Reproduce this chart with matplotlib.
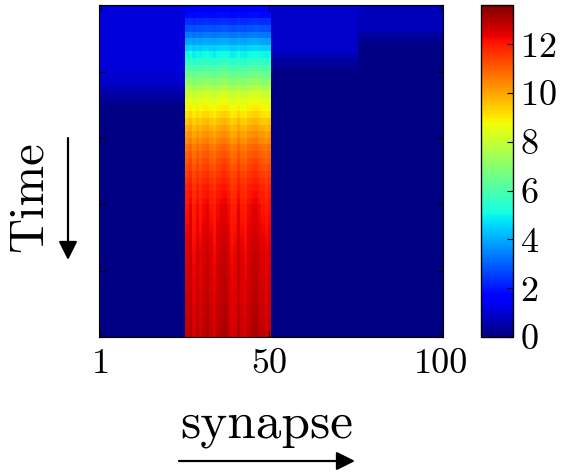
import numpy as np
import matplotlib
matplotlib.use("Agg")
import matplotlib.pyplot as plt

plt.rcParams['font.family'] = 'serif'
plt.rcParams['font.serif'] = ['cmr10']
plt.rcParams['axes.formatter.use_mathtext'] = True

# mean value of the stimulated synapses (26-50), one value per time row (top -> bottom)
band_profile = [1.4, 1.8, 2.3, 2.8, 3.3, 3.9, 4.5, 5.0, 5.5, 6.0,
                6.5, 7.0, 7.6, 8.1, 8.5, 8.8, 9.1, 9.5, 9.8, 10.1,
                10.4, 10.7, 10.9, 11.1, 11.3, 11.5, 11.65, 11.8, 11.9, 12.0,
                12.1, 12.15, 12.2, 12.25, 12.3, 12.35, 12.4, 12.45, 12.45, 12.5,
                12.5, 12.55, 12.55, 12.6, 12.6, 12.65, 12.65, 12.7, 12.7, 12.75]
# relative strength of each stimulated synapse (stripes)
band_col_scale = [1.00, 1.02, 0.985, 1.01, 0.99, 1.01, 1.02, 1.00, 0.985, 1.01,
                  1.02, 1.025, 1.01, 0.985, 0.99, 1.02, 0.995, 0.985, 1.01, 1.02,
                  1.025, 1.01, 1.00, 0.99, 1.005]
# synapses 1-25, 51-75, 76-100
left_profile = [1.1] * 10 + [1.0, 0.9, 0.7, 0.45, 0.25] + [0.1] * 35
mid_profile = [0.85] * 7 + [0.7, 0.4, 0.2] + [0.1] * 40
right_profile = [0.7] * 4 + [0.45, 0.2] + [0.1] * 44

n_t = len(band_profile)
Z = np.zeros((n_t, 100))
Z[:, 0:25] = np.array(left_profile)[:, None]
Z[:, 25:50] = np.outer(band_profile, band_col_scale)
Z[:, 50:75] = np.array(mid_profile)[:, None]
Z[:, 75:100] = np.array(right_profile)[:, None]
vmax = 13.6

fig = plt.figure(figsize=(5.66, 4.74), dpi=100)
ax = fig.add_axes([0.175, 0.289, 0.608, 0.700])
im = ax.imshow(Z, cmap='jet', vmin=0, vmax=vmax, aspect='auto',
               interpolation='nearest', extent=[0.5, 100.5, n_t, 0])
ax.set_xlim(0.5, 100.5)
ax.set_xticks([1, 50, 100])
ax.set_xticklabels(['1', '50', '100'])
ax.set_yticks(np.linspace(0, n_t, 6))
ax.set_yticklabels([])
ax.tick_params(direction='in', top=True, right=True, labelsize=26, length=4, pad=8)

cax = fig.add_axes([0.850, 0.289, 0.0565, 0.700])
cb = fig.colorbar(im, cax=cax)
cb.set_ticks([0, 2, 4, 6, 8, 10, 12])
cb.ax.tick_params(direction='in', labelsize=26, length=4, pad=5)
cb.outline.set_linewidth(1)

fig.text(30 / 566, 1 - 197 / 474, 'Time', rotation=90, fontsize=35,
         ha='center', va='center')
fig.text(267 / 566, 1 - 437 / 474, 'synapse', fontsize=37,
         ha='center', va='baseline')

ax.annotate('', xy=(68, 474 - 260), xytext=(68, 474 - 138),
            xycoords='figure pixels', textcoords='figure pixels',
            arrowprops=dict(arrowstyle='-|>', color='black', lw=1.6,
                            mutation_scale=28, shrinkA=0, shrinkB=0))
ax.annotate('', xy=(355, 474 - 461), xytext=(179, 474 - 461),
            xycoords='figure pixels', textcoords='figure pixels',
            arrowprops=dict(arrowstyle='-|>', color='black', lw=1.6,
                            mutation_scale=28, shrinkA=0, shrinkB=0))

fig.savefig('out.png', dpi=100)
